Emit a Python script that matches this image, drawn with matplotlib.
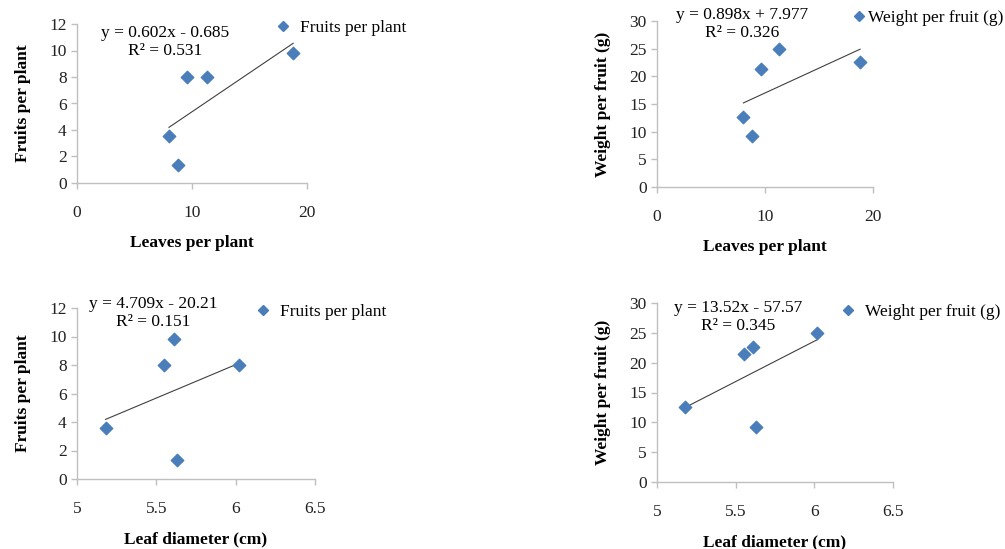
import numpy as np
import matplotlib.pyplot as plt
from matplotlib.lines import Line2D

# per-plant values
leaves = [8.0, 8.8, 9.6, 11.3, 18.8]
diameter = [5.18, 5.63, 5.55, 6.02, 5.61]
fruits = [3.55, 1.35, 8.0, 8.0, 9.8]
weight = [12.6, 9.2, 21.4, 25.0, 22.6]

eq_text = ["y = 0.602x - 0.685\nR\u00b2 = 0.531",
           "y = 0.898x + 7.977\nR\u00b2 = 0.326",
           "y = 4.709x - 20.21\nR\u00b2 = 0.151",
           "y = 13.52x - 57.57\nR\u00b2 = 0.345"]

W, H = 1005, 549
BLUE = '#4a7ebb'
GRID = '#bfbfbf'
plt.rcParams['font.family'] = ['Liberation Serif', 'DejaVu Serif']

fig = plt.figure(figsize=(W / 100, H / 100), dpi=100)


def px_axes(l, t, r, b):
    return fig.add_axes([l / W, 1 - b / H, (r - l) / W, (b - t) / H])


# (axes box, x, y, xlim, xticks, ylim, yticks, xlabel, ylabel, legend, eq pos, legend pos, text pad)
panels = [
    ((77, 24, 307, 183), leaves, fruits, (0, 20), [0, 10, 20], (0, 12), range(0, 13, 2),
     'Leaves per plant', 'Fruits per plant', 'Fruits per plant', (165, 42), (276, 28), 0.6),
    ((657, 21, 873, 187), leaves, weight, (0, 20), [0, 10, 20], (0, 30), range(0, 31, 5),
     'Leaves per plant', 'Weight per fruit (g)', 'Weight per fruit (g)', (742, 24), (852, 18), 0.1),
    ((77, 308, 315, 479), diameter, fruits, (5, 6.5), [5, 5.5, 6, 6.5], (0, 12), range(0, 13, 2),
     'Leaf diameter (cm)', 'Fruits per plant', 'Fruits per plant', (153, 313), (256, 312), 0.6),
    ((657, 303, 893, 482), diameter, weight, (5, 6.5), [5, 5.5, 6, 6.5], (0, 30), range(0, 31, 5),
     'Leaf diameter (cm)', 'Weight per fruit (g)', 'Weight per fruit (g)', (738, 317), (841, 312), 0.6),
]

for i, (box, x, y, xl, xt, yl, yt, xlab, ylab, leg, eqp, legp, tpad) in enumerate(panels):
    ax = px_axes(*box)
    ax.scatter(x, y, marker='D', s=40, color=BLUE, zorder=3, clip_on=False)
    k, c = np.polyfit(x, y, 1)
    xs = np.array([min(x), max(x)])
    ax.plot(xs, k * xs + c, color='#404040', lw=0.8, zorder=2)

    ax.set_xlim(*xl)
    ax.set_ylim(*yl)
    ax.set_xticks(xt)
    ax.set_xticklabels([f'{v:g}' for v in xt])
    ax.set_yticks(list(yt))
    for s in ['top', 'right']:
        ax.spines[s].set_visible(False)
    for s in ['left', 'bottom']:
        ax.spines[s].set_color(GRID)
        ax.spines[s].set_linewidth(1.0)
    ax.tick_params(axis='both', colors=GRID, labelcolor='#222222', labelsize=12.5,
                   length=4, width=1, direction='out')
    ax.tick_params(axis='x', pad=12)
    ax.set_xlabel(xlab, fontsize=12.5, fontweight='bold', labelpad=10)
    ax.set_ylabel(ylab, fontsize=12.5, fontweight='bold', labelpad=13)
    ax.set_facecolor('none')

    fig.text(eqp[0] / W, 1 - eqp[1] / H, eq_text[i], ha='center', va='center',
             fontsize=12.5, linespacing=1.15)
    h = Line2D([], [], marker='D', color=BLUE, ls='none', markersize=5)
    ax.legend([h], [leg], loc='center left', bbox_to_anchor=(legp[0] / W, 1 - legp[1] / H),
              bbox_transform=fig.transFigure, frameon=False, fontsize=12.5,
              handlelength=0.8, handletextpad=tpad, borderpad=0, borderaxespad=0)

fig.savefig('out.png', dpi=100)
